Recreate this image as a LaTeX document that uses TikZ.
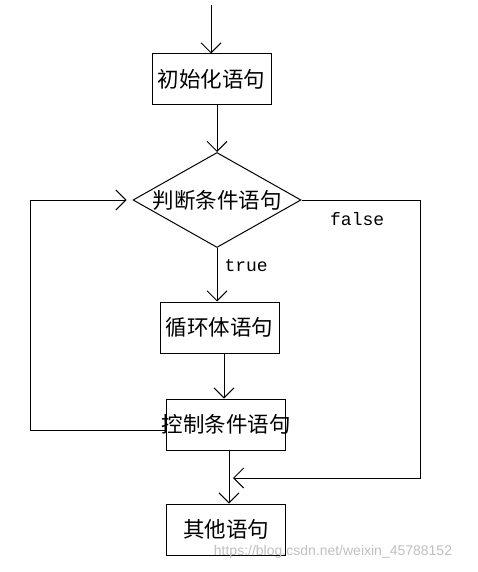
\documentclass[tikz,border=0pt]{standalone}
\usepackage{fontspec}
\setmainfont{Liberation Sans}
\setmonofont{Liberation Mono}
\newfontfamily\cjk{Noto Sans CJK SC}
\usetikzlibrary{arrows.meta, shapes.geometric}

\begin{document}
\begin{tikzpicture}[
            x=1pt, y=-1pt,
            line width=1pt,
            box/.style={draw, rectangle, minimum width=119pt, minimum height=51pt, inner sep=0pt, font=\cjk\fontsize{21.5}{23}\selectfont},
            cond/.style={draw, diamond, aspect=1.77, minimum width=168pt, minimum height=95pt, inner sep=0pt, font=\cjk\fontsize{21.5}{23}\selectfont},
            arr/.style={arrows=-{Straight Barb[length=10pt, width=20pt, line width=1pt]}},
            lbl/.style={font=\ttfamily\fontsize{18}{20}\selectfont, inner sep=1pt}
        ]
        \useasboundingbox (0,0) rectangle (477,572);

        \coordinate (start) at (211,5);
        \coordinate (loopL) at (30,200);
        \coordinate (loopR) at (420,478);
        \coordinate (merge) at (229,478);

        \node[box] (init) at (211.5,79.5) {初始化语句};
        \node[cond] (test) at (217,200) {\makebox[120pt][c]{判断条件语句}};
        \node[box] (body) at (219.5,327.5) {循环体语句};
        \node[box] (ctrl) at (226,424.5) {\makebox[100pt][c]{控制条件语句}};
        \node[box] (other) at (226,529.5) {其他语句};

        \draw[arr] (start) -- (init.north -| start);
        \draw[arr] (init.south -| test.north) -- (test.north);
        \draw[arr] (test.south) -- node[lbl, pos=.33, right=6pt] {true} (test.south |- body.north);
        \draw[arr] (body.south -| 224,0) -- (ctrl.north -| 224,0);
        \draw[arr] (ctrl.south -| merge) -- (other.north -| merge);
        \draw[arr] ([yshift=-5.5pt]ctrl.west) -| (loopL) -- ([xshift=-6pt]test.west);
        \draw[arr] (test.east) -| node[lbl, pos=.235, below=11pt] {false} (loopR) -- ([xshift=4pt]merge);

        \node[text=black!25, font=\fontsize{14}{16}\selectfont] (mark) at (333,552) {https://blog.csdn.net/weixin\_45788152};
    \end{tikzpicture}
\end{document}
